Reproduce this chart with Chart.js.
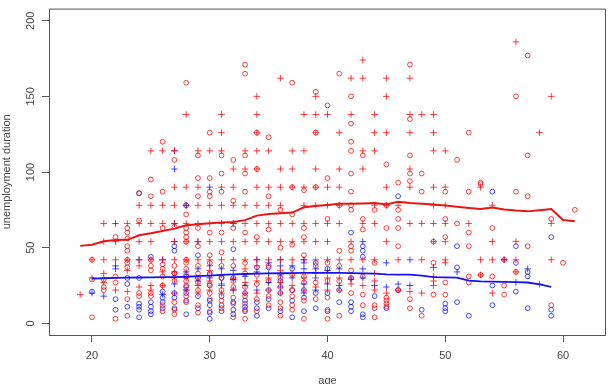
<!DOCTYPE html>
<html>
<head>
<meta charset="utf-8">
<script src="https://cdn.jsdelivr.net/npm/chart.js@4"></script>
<style>
  html, body { margin: 0; padding: 0; background: #fff; }
  #wrap { width: 611px; height: 384px; }
</style>
</head>
<body>
<div id="wrap"><canvas id="chart" width="611" height="384"></canvas></div>
<script>
// ages on the x axis, one entry per column of points
const ages = [19,20,21,22,23,24,25,26,27,28,29,30,31,32,33,34,35,36,37,38,39,40,
              41,42,43,44,45,46,47,48,49,50,51,52,53,54,55,56,57,58,59,60,61];

// unemployment durations per age (same index as ages)
const redPlus = [
  [19],[42,30],[66,54,42,33,27],[54,42,22],[66,42,35,21],[78,66,54,42,38,24],
  [114,78,66,54,42,25,22],[114,78,66,42,34,25],[114,90,78,66,54,42,34,30],
  [138,90,78,66,54,42,30,22],[114,90,78,66,54,42,30,25,20],[114,78,66,54,42,35,28,22],
  [138,126,114,90,78,66,54,42,32,25,20],[102,90,78,66,54,42,30,22],
  [114,102,78,66,54,42,36,27,20],[150,138,126,114,102,90,78,66,54,42,38,28,20],
  [114,90,78,66,54,42,30,22],[162,102,90,78,66,54,42,35,27,20],
  [114,102,90,66,54,42,33,25],[138,114,90,78,66,54,42,30,22],
  [150,138,126,102,90,78,66,54,42,33,24],[138,90,78,66,54,42,30,22],
  [126,102,90,78,66,42,30,22],[162,138,54,42,30,26],[174,162,114,102,66,42,25],
  [138,126,114,78,66,42,33,28,22],[162,150,126,90,78,54,20],[78,42,22],
  [162,138,126,102,90,66,21],[138,66,42,20],[138,126,114,90,78,66,54,31,28,25],
  [114,90,78,66,54,42,40],[],[66],[90,42,32],[78,54,42,20],[42],[186,54,42,34],
  [],[126,26],[150,66,42],[],[]
];
const redCircle = [
  [],[42,29,4],[29,24,22],[57,31,27,3],[63,60,56,51,48,42,40,37,16,5],[86,68,20,18],
  [95,84,42,38,35,20,18],[120,87,63,39,36,31,25,12,8],[108,64,38,33,28,20,14,9,6],
  [159,72,63,60,57,54,42,40,36,32,28,25,18,14],[111,96,84,63,51,38,33,27,22,12,7],
  [126,96,87,84,60,45,40,32,26,20,16,8],[111,99,87,60,47,38,30,22,15,10],
  [108,81,63,38,28,24,17,13,4],[171,165,111,99,87,60,40,33,24,18,13,9,3],
  [126,102,57,32,26,16,8],[123,84,62,38,28,18,12],[75,50,30,24,14,10,5],
  [159,90,72,52,32,22,18,12,9],[88,63,57,45,31,27,15,3],[153,126,90,38,27,16],
  [144,96,69,40,28,17,9,3],[165,78,48,38,28,5],[150,132,120,114,99,87,78,75,51,48,35,20],
  [111,69,62,31,19,12],[75,40,12,10,4],[105,78,63,17,15,13,11],[93,75,69,63,51,22],
  [171,135,111,99,94,16,10],[99,87,5],[54,40,19],[87,69,57,27,19],[108,66],
  [126,87,60,51,31,27],[93,92,32],[63,31],[42,25,19],[150,87,34],[177,111,84,51],
  [],[69,12],[40],[75]
];
const bluePlus = [
  [],[20],[18],[66,38,36],[],[42],[],[42,19],[114,102,66,54,26,20],[78,34,22],
  [54,36,28],[90,38,30],[36,26],[66,35,29,22],[31,25],[42,34,22],[40,33,27],
  [42,38,32,24],[38,30],[42,40,36,26,20],[36,30,22],[35,26],[36,25],[29],[54,36,30],
  [25],[40,24],[26],[42,25],[],[37],[],[34],[],[],[],[42],[27],[36],[],[],[],[]
];
const blueCircle = [
  [],[21],[],[16,9],[30,26,11],[86,30,13,11,9,4],[44,14,11,8,6],[21,17,14,10],
  [51,48,33,17,10],[78,31,24,20,15,6],[45,30,18,10],[33,25,15,12,7,3],[30,18,12,8],
  [49,30,14,9,6],[20,15,11,8],[37,14,10,5],[37,22,16,10],[28,20,8],[36,22,15,4],
  [22,17,8],[40,20,10],[36,20,8],[22,14],[60,30,14,11,8],[51,48,44,6,4],[18],[10],
  [84,22],[],[9],[],[13,10,8],[51,37,14],[5],[],[87,25,12],[],[51,40,21],[34,31,10],
  [],[57,9,5],[],[]
];

// smoothed curves
const redLineAges = ages;
const redLine = [51.2,52.0,54.2,55.0,55.2,58.2,59.5,61.0,62.6,64.8,65.5,66.2,66.6,67.0,
  68.2,71.2,72.3,72.7,73.2,76.7,77.5,78.2,79.0,79.0,79.2,79.5,78.5,80.3,79.5,79.0,78.5,
  77.8,77.0,76.2,75.5,76.5,75.2,74.5,74.0,74.8,75.5,68.3,67.4];
const blueLineAges = ages.slice(1, 41);
const blueLine = [29.5,29.8,30.0,30.2,30.3,30.4,30.5,30.6,30.8,31.2,31.6,32.0,32.3,32.6,
  32.9,33.0,33.1,33.2,33.3,33.4,33.4,33.3,33.2,33.0,32.8,32.4,32.2,32.2,31.5,30.6,30.4,
  30.2,28.2,27.8,27.6,27.4,27.2,27.0,25.8,24.1];

const xTicks = [20, 30, 40, 50, 60];
const yTicks = [0, 50, 100, 150, 200];

function toPoints(groups) {
  const pts = [];
  groups.forEach((vals, i) => vals.forEach(v => pts.push({ x: ages[i], y: v })));
  return pts;
}
function toLine(xs, ys) {
  return xs.map((x, i) => ({ x: x, y: ys[i] }));
}

const RED = "rgba(255,0,0,0.75)";
const BLUE = "rgba(0,0,255,0.7)";
const FONT = { family: "'Liberation Sans', Arial, sans-serif", size: 11 };

// frame round the plot region, like R's box()
const boxPlugin = {
  id: "box",
  afterDraw(chart) {
    const a = chart.chartArea, ctx = chart.ctx;
    ctx.save();
    ctx.strokeStyle = "#555";
    ctx.lineWidth = 1;
    ctx.strokeRect(a.left + 0.5, a.top + 0.5, a.right - a.left - 1, a.bottom - a.top);
    ctx.restore();
  }
};
const bgPlugin = {
  id: "bg",
  beforeDraw(chart) {
    const ctx = chart.ctx;
    ctx.save();
    ctx.fillStyle = "#fff";
    ctx.fillRect(0, 0, chart.width, chart.height);
    ctx.restore();
  }
};

new Chart(document.getElementById("chart"), {
  type: "scatter",
  data: {
    datasets: [
      {
        type: "line", data: toLine(redLineAges, redLine), borderColor: "rgb(235,20,20)",
        borderWidth: 2, pointRadius: 0, fill: false, tension: 0
      },
      {
        type: "line", data: toLine(blueLineAges, blueLine), borderColor: "rgb(20,20,235)",
        borderWidth: 1.8, pointRadius: 0, fill: false, tension: 0
      },
      {
        data: toPoints(redPlus), pointStyle: "cross", pointRadius: 3.3,
        borderColor: RED, borderWidth: 1, backgroundColor: "transparent"
      },
      {
        data: toPoints(bluePlus), pointStyle: "cross", pointRadius: 3.3,
        borderColor: BLUE, borderWidth: 1, backgroundColor: "transparent"
      },
      {
        data: toPoints(redCircle), pointStyle: "circle", pointRadius: 2.4,
        borderColor: RED, borderWidth: 1, backgroundColor: "transparent"
      },
      {
        data: toPoints(blueCircle), pointStyle: "circle", pointRadius: 2.4,
        borderColor: BLUE, borderWidth: 1, backgroundColor: "transparent"
      }
    ]
  },
  options: {
    responsive: false,
    animation: false,
    devicePixelRatio: 1,
    layout: { padding: { top: 7, right: 5, left: 0, bottom: 0 } },
    plugins: { legend: { display: false }, tooltip: { enabled: false } },
    elements: { point: { hoverRadius: 0 } },
    scales: {
      x: {
        type: "linear", position: "bottom", min: 16.35, max: 63.65,
        afterBuildTicks: s => { s.ticks = xTicks.map(v => ({ value: v })); },
        afterFit: s => { s.height = 49; },
        grid: { drawOnChartArea: false, drawTicks: true, tickLength: 7, color: "#555" },
        border: { display: false },
        ticks: { font: FONT, color: "#444", padding: 7, maxRotation: 0 },
        title: { display: true, text: "age", font: FONT, color: "#444", padding: { top: 0, bottom: -4 } }
      },
      y: {
        type: "linear", position: "left", min: -7.7, max: 208,
        afterBuildTicks: s => { s.ticks = yTicks.map(v => ({ value: v })); },
        afterFit: s => { s.width = 49; },
        grid: { drawOnChartArea: false, drawTicks: true, tickLength: 7, color: "#555" },
        border: { display: false },
        ticks: { font: FONT, color: "#444", padding: 2, minRotation: 90, maxRotation: 90, crossAlign: "center" },
        title: { display: true, text: "unemployment duration", font: FONT, color: "#444", padding: { top: 0, bottom: 0 } }
      }
    }
  },
  plugins: [bgPlugin, boxPlugin]
});
</script>
</body>
</html>
